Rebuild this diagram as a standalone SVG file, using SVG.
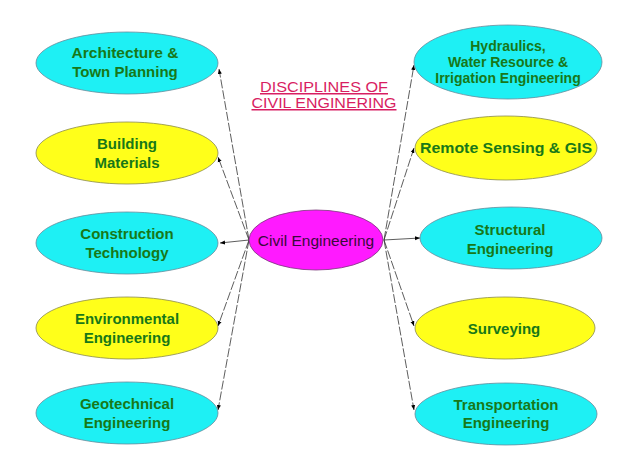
<svg xmlns="http://www.w3.org/2000/svg" width="640" height="466" viewBox="0 0 640 466">
<defs>
<marker id="arr" viewBox="0 0 10 10" refX="10" refY="5" markerWidth="5" markerHeight="5" orient="auto" markerUnits="userSpaceOnUse">
<path d="M0,1 L10,5 L0,9 z" fill="#000"/>
</marker>
<style>
.cy{fill:#1ef0f4;stroke:#6a8a9a;stroke-width:0.8}
.ye{fill:#ffff1a;stroke:#8a8a50;stroke-width:0.8}
.mg{fill:#ff1aff;stroke:#7a3a7a;stroke-width:0.8}
.t{font-family:"Liberation Sans",Arial,sans-serif;font-weight:bold;font-size:15px;fill:#187818;text-anchor:middle}
.t3{font-size:14px}
.c{font-family:"Liberation Sans",Arial,sans-serif;font-size:15.5px;fill:#3a0a3a;text-anchor:middle}
.ttl{font-family:"Liberation Sans",Arial,sans-serif;font-size:15px;fill:#d81e62;text-anchor:middle;text-decoration:underline}
.cn{fill:none;stroke:#333;stroke-width:0.8;stroke-dasharray:9,2}
.sd{fill:none;stroke:#333;stroke-width:0.8}
</style>
</defs>
<rect width="640" height="466" fill="#fff"/>
<g id="connectors">
<line class="cn" x1="249" y1="240" x2="219" y2="69" marker-end="url(#arr)"/>
<line class="cn" x1="249" y1="240" x2="218" y2="157" marker-end="url(#arr)"/>
<line class="sd" x1="249" y1="240" x2="220" y2="243" marker-end="url(#arr)"/>
<line class="cn" x1="249" y1="240" x2="218" y2="326" marker-end="url(#arr)"/>
<line class="cn" x1="249" y1="240" x2="218" y2="410" marker-end="url(#arr)"/>
<line class="cn" x1="384" y1="240" x2="414" y2="65" marker-end="url(#arr)"/>
<line class="cn" x1="384" y1="240" x2="414" y2="148" marker-end="url(#arr)"/>
<line class="sd" x1="384" y1="240" x2="420" y2="238" marker-end="url(#arr)"/>
<line class="cn" x1="384" y1="240" x2="414" y2="326" marker-end="url(#arr)"/>
<line class="cn" x1="384" y1="240" x2="414" y2="410" marker-end="url(#arr)"/>
</g>
<g id="title">
<text class="ttl" x="324" y="92" textLength="128" lengthAdjust="spacingAndGlyphs">DISCIPLINES OF</text>
<text class="ttl" x="324" y="108" textLength="145" lengthAdjust="spacingAndGlyphs">CIVIL ENGINERING</text>
</g>
<g id="civil">
<ellipse class="mg" cx="316" cy="240" rx="67" ry="30"/>
<text class="c" x="316" y="246">Civil Engineering</text>
</g>
<g id="architecture">
<ellipse class="cy" cx="127" cy="63" rx="91" ry="31"/>
<text class="t" x="125" y="58" textLength="107" lengthAdjust="spacingAndGlyphs">Architecture &amp;</text>
<text class="t" x="125" y="77">Town Planning</text>
</g>
<g id="building">
<ellipse class="ye" cx="127" cy="153" rx="91" ry="31"/>
<text class="t" x="127" y="149">Building</text>
<text class="t" x="127" y="168">Materials</text>
</g>
<g id="construction">
<ellipse class="cy" cx="127" cy="243" rx="91" ry="31"/>
<text class="t" x="127" y="239">Construction</text>
<text class="t" x="127" y="258">Technology</text>
</g>
<g id="environmental">
<ellipse class="ye" cx="127" cy="328" rx="91" ry="31"/>
<text class="t" x="127" y="324">Environmental</text>
<text class="t" x="127" y="343">Engineering</text>
</g>
<g id="geotechnical">
<ellipse class="cy" cx="127" cy="413" rx="91" ry="31"/>
<text class="t" x="127" y="409">Geotechnical</text>
<text class="t" x="127" y="428">Engineering</text>
</g>
<g id="hydraulics">
<ellipse class="cy" cx="508" cy="62" rx="94" ry="37"/>
<text class="t t3" x="508" y="51">Hydraulics,</text>
<text class="t t3" x="508" y="67">Water Resource &amp;</text>
<text class="t t3" x="508" y="83">Irrigation Engineering</text>
</g>
<g id="remote">
<ellipse class="ye" cx="506" cy="148" rx="91" ry="32"/>
<text class="t" x="506" y="153" textLength="172" lengthAdjust="spacingAndGlyphs">Remote Sensing &amp; GIS</text>
</g>
<g id="structural">
<ellipse class="cy" cx="511" cy="238" rx="91" ry="31"/>
<text class="t" x="510" y="235">Structural</text>
<text class="t" x="510" y="254">Engineering</text>
</g>
<g id="surveying">
<ellipse class="ye" cx="505" cy="328" rx="90" ry="31"/>
<text class="t" x="504" y="334">Surveying</text>
</g>
<g id="transportation">
<ellipse class="cy" cx="506" cy="414" rx="91" ry="31"/>
<text class="t" x="506" y="410">Transportation</text>
<text class="t" x="506" y="428">Engineering</text>
</g>
</svg>
